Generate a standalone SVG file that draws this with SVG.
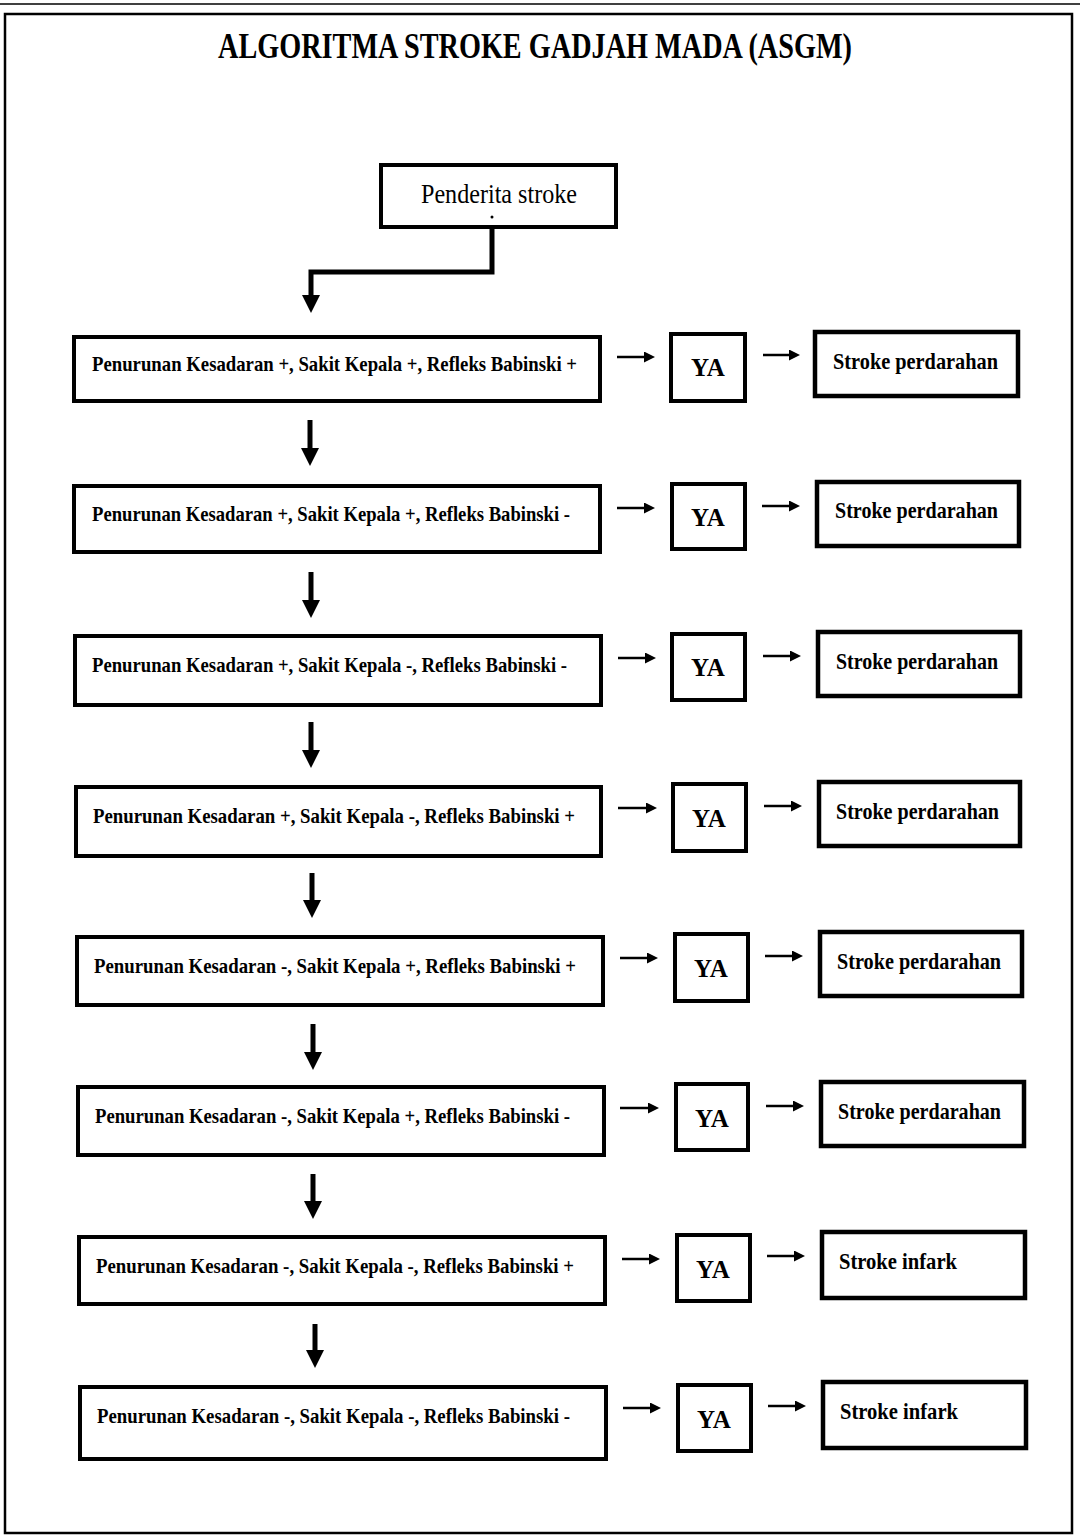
<svg xmlns="http://www.w3.org/2000/svg" width="1080" height="1536" viewBox="0 0 1080 1536">
<defs>
<style>
.box{fill:#fff;stroke:#000;stroke-width:4}
.rbox{fill:#fff;stroke:#000;stroke-width:4.5}
.cond{font-family:"Liberation Serif","Times New Roman",serif;font-weight:bold;font-size:21px;fill:#000}
.ya{font-family:"Liberation Serif","Times New Roman",serif;font-weight:bold;font-size:25px;fill:#000;text-anchor:middle}
.res{font-family:"Liberation Serif","Times New Roman",serif;font-weight:bold;font-size:24px;fill:#000}
.big{stroke:#000;stroke-width:5;fill:none}
.sm{stroke:#000;stroke-width:2.5;fill:none}
</style>
<marker id="hb" viewBox="0 0 18 18" markerWidth="18" markerHeight="18" refX="0" refY="9" orient="auto" markerUnits="userSpaceOnUse"><path d="M0,0 L18,9 L0,18 z" fill="#000"/></marker>
<marker id="hs" viewBox="0 0 11 11" markerWidth="11" markerHeight="11" refX="0" refY="5.5" orient="auto" markerUnits="userSpaceOnUse"><path d="M0,0 L11,5.5 L0,11 z" fill="#000"/></marker>
</defs>
<rect width="1080" height="1536" fill="#fff"/>
<line x1="0" y1="4" x2="1080" y2="4" stroke="#000" stroke-width="1.5"/>
<rect x="5" y="14" width="1067" height="1519" fill="none" stroke="#000" stroke-width="2.5"/>
<text x="535" y="58" text-anchor="middle" font-family="Liberation Serif,Times New Roman,serif" font-weight="bold" font-size="36" textLength="634" lengthAdjust="spacingAndGlyphs">ALGORITMA STROKE GADJAH MADA (ASGM)</text>

<g id="start">
<rect class="box" x="381" y="165" width="235" height="62"/>
<text x="499" y="203" text-anchor="middle" font-family="Liberation Serif,Times New Roman,serif" font-size="28" textLength="156" lengthAdjust="spacingAndGlyphs">Penderita stroke</text>
<circle cx="492" cy="217" r="1.5" fill="#000"/>
</g>

<g id="connectors">
<path class="big" d="M492,229 V272 H311 V295" marker-end="url(#hb)"/>
<line class="big" x1="310" y1="420" x2="310" y2="448" marker-end="url(#hb)"/>
<line class="big" x1="311" y1="572" x2="311" y2="600" marker-end="url(#hb)"/>
<line class="big" x1="311" y1="722" x2="311" y2="750" marker-end="url(#hb)"/>
<line class="big" x1="312" y1="873" x2="312" y2="900" marker-end="url(#hb)"/>
<line class="big" x1="313" y1="1024" x2="313" y2="1052" marker-end="url(#hb)"/>
<line class="big" x1="313" y1="1174" x2="313" y2="1201" marker-end="url(#hb)"/>
<line class="big" x1="315" y1="1324" x2="315" y2="1350" marker-end="url(#hb)"/>

<line class="sm" x1="617" y1="357" x2="644" y2="357" marker-end="url(#hs)"/>
<line class="sm" x1="763" y1="355" x2="789" y2="355" marker-end="url(#hs)"/>
<line class="sm" x1="617" y1="508" x2="644" y2="508" marker-end="url(#hs)"/>
<line class="sm" x1="762" y1="506" x2="789" y2="506" marker-end="url(#hs)"/>
<line class="sm" x1="618" y1="658" x2="645" y2="658" marker-end="url(#hs)"/>
<line class="sm" x1="763" y1="656" x2="790" y2="656" marker-end="url(#hs)"/>
<line class="sm" x1="618" y1="808" x2="646" y2="808" marker-end="url(#hs)"/>
<line class="sm" x1="764" y1="806" x2="791" y2="806" marker-end="url(#hs)"/>
<line class="sm" x1="620" y1="958" x2="647" y2="958" marker-end="url(#hs)"/>
<line class="sm" x1="765" y1="956" x2="792" y2="956" marker-end="url(#hs)"/>
<line class="sm" x1="620" y1="1108" x2="648" y2="1108" marker-end="url(#hs)"/>
<line class="sm" x1="766" y1="1106" x2="793" y2="1106" marker-end="url(#hs)"/>
<line class="sm" x1="622" y1="1259" x2="649" y2="1259" marker-end="url(#hs)"/>
<line class="sm" x1="767" y1="1256" x2="794" y2="1256" marker-end="url(#hs)"/>
<line class="sm" x1="623" y1="1408" x2="650" y2="1408" marker-end="url(#hs)"/>
<line class="sm" x1="768" y1="1406" x2="795" y2="1406" marker-end="url(#hs)"/>
</g>

<g id="cond1"><rect class="box" x="74" y="337" width="526" height="64"/><text class="cond" x="92" y="371" textLength="485" lengthAdjust="spacingAndGlyphs">Penurunan Kesadaran +, Sakit Kepala +, Refleks Babinski +</text></g>
<g id="ya1"><rect class="box" x="671" y="334" width="74" height="67"/><text class="ya" x="708" y="376">YA</text></g>
<g id="res1"><rect class="rbox" x="815" y="332" width="203" height="64"/><text class="res" x="833" y="369" textLength="165" lengthAdjust="spacingAndGlyphs">Stroke perdarahan</text></g>

<g id="cond2"><rect class="box" x="74" y="486" width="526" height="66"/><text class="cond" x="92" y="521" textLength="478" lengthAdjust="spacingAndGlyphs">Penurunan Kesadaran +, Sakit Kepala +, Refleks Babinski -</text></g>
<g id="ya2"><rect class="box" x="672" y="484" width="73" height="65"/><text class="ya" x="708" y="526">YA</text></g>
<g id="res2"><rect class="rbox" x="817" y="482" width="202" height="64"/><text class="res" x="835" y="518" textLength="163" lengthAdjust="spacingAndGlyphs">Stroke perdarahan</text></g>

<g id="cond3"><rect class="box" x="75" y="636" width="526" height="69"/><text class="cond" x="92" y="672" textLength="475" lengthAdjust="spacingAndGlyphs">Penurunan Kesadaran +, Sakit Kepala -, Refleks Babinski -</text></g>
<g id="ya3"><rect class="box" x="672" y="634" width="73" height="66"/><text class="ya" x="708" y="676">YA</text></g>
<g id="res3"><rect class="rbox" x="818" y="632" width="202" height="64"/><text class="res" x="836" y="669" textLength="162" lengthAdjust="spacingAndGlyphs">Stroke perdarahan</text></g>

<g id="cond4"><rect class="box" x="76" y="787" width="525" height="69"/><text class="cond" x="93" y="823" textLength="482" lengthAdjust="spacingAndGlyphs">Penurunan Kesadaran +, Sakit Kepala -, Refleks Babinski +</text></g>
<g id="ya4"><rect class="box" x="673" y="784" width="73" height="67"/><text class="ya" x="709" y="827">YA</text></g>
<g id="res4"><rect class="rbox" x="819" y="782" width="201" height="64"/><text class="res" x="836" y="819" textLength="163" lengthAdjust="spacingAndGlyphs">Stroke perdarahan</text></g>

<g id="cond5"><rect class="box" x="77" y="937" width="526" height="68"/><text class="cond" x="94" y="973" textLength="482" lengthAdjust="spacingAndGlyphs">Penurunan Kesadaran -, Sakit Kepala +, Refleks Babinski +</text></g>
<g id="ya5"><rect class="box" x="675" y="934" width="73" height="67"/><text class="ya" x="711" y="977">YA</text></g>
<g id="res5"><rect class="rbox" x="820" y="932" width="202" height="64"/><text class="res" x="837" y="969" textLength="164" lengthAdjust="spacingAndGlyphs">Stroke perdarahan</text></g>

<g id="cond6"><rect class="box" x="78" y="1087" width="526" height="68"/><text class="cond" x="95" y="1123" textLength="475" lengthAdjust="spacingAndGlyphs">Penurunan Kesadaran -, Sakit Kepala +, Refleks Babinski -</text></g>
<g id="ya6"><rect class="box" x="676" y="1084" width="72" height="66"/><text class="ya" x="712" y="1127">YA</text></g>
<g id="res6"><rect class="rbox" x="821" y="1082" width="203" height="64"/><text class="res" x="838" y="1119" textLength="163" lengthAdjust="spacingAndGlyphs">Stroke perdarahan</text></g>

<g id="cond7"><rect class="box" x="79" y="1237" width="526" height="67"/><text class="cond" x="96" y="1273" textLength="478" lengthAdjust="spacingAndGlyphs">Penurunan Kesadaran -, Sakit Kepala -, Refleks Babinski +</text></g>
<g id="ya7"><rect class="box" x="677" y="1235" width="73" height="66"/><text class="ya" x="713" y="1278">YA</text></g>
<g id="res7"><rect class="rbox" x="822" y="1232" width="203" height="66"/><text class="res" x="839" y="1269" textLength="118" lengthAdjust="spacingAndGlyphs">Stroke infark</text></g>

<g id="cond8"><rect class="box" x="80" y="1387" width="526" height="72"/><text class="cond" x="97" y="1423" textLength="473" lengthAdjust="spacingAndGlyphs">Penurunan Kesadaran -, Sakit Kepala -, Refleks Babinski -</text></g>
<g id="ya8"><rect class="box" x="678" y="1385" width="73" height="66"/><text class="ya" x="714" y="1428">YA</text></g>
<g id="res8"><rect class="rbox" x="823" y="1382" width="203" height="66"/><text class="res" x="840" y="1419" textLength="118" lengthAdjust="spacingAndGlyphs">Stroke infark</text></g>
</svg>
